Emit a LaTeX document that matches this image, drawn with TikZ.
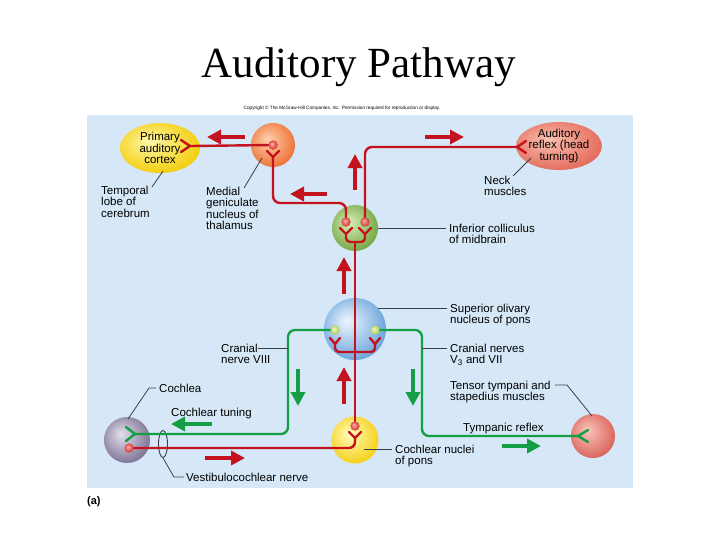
\documentclass[tikz,border=0pt]{standalone}
\usepackage{fontspec}
\setmainfont{Liberation Serif}
\setsansfont{Liberation Sans}
\usetikzlibrary{arrows.meta,shapes.geometric}
\definecolor{panel}{RGB}{214,232,247}
\definecolor{nred}{RGB}{196,18,30}
\definecolor{ngreen}{RGB}{22,158,68}
\definecolor{leadc}{RGB}{60,62,72}
\definecolor{cortA}{RGB}{255,248,170}\definecolor{cortB}{RGB}{242,202,0}
\definecolor{mgA}{RGB}{255,208,172}\definecolor{mgB}{RGB}{236,108,48}
\definecolor{icA}{RGB}{218,238,184}\definecolor{icB}{RGB}{108,162,58}
\definecolor{soA}{RGB}{238,246,255}\definecolor{soB}{RGB}{98,158,216}
\definecolor{cnA}{RGB}{255,252,192}\definecolor{cnB}{RGB}{245,205,10}
\definecolor{coA}{RGB}{228,224,238}\definecolor{coB}{RGB}{118,108,142}
\definecolor{tnA}{RGB}{250,198,188}\definecolor{tnB}{RGB}{216,92,82}
\definecolor{rfA}{RGB}{250,192,178}\definecolor{rfB}{RGB}{226,102,86}
\definecolor{rbA}{RGB}{252,175,165}\definecolor{rbB}{RGB}{206,32,32}
\definecolor{gbA}{RGB}{242,250,205}\definecolor{gbB}{RGB}{162,196,58}
\colorlet{sphA}{white}
\colorlet{sphB}{black}
\pgfdeclareradialshading[sphA,sphB]{sphere}{\pgfpoint{-7bp}{7bp}}{color(0bp)=(sphA); color(31bp)=(sphB); color(50bp)=(sphB)}
\begin{document}
\begin{tikzpicture}[x=1pt,y=-1pt,
  lbl/.style={font=\sffamily\fontsize{11.5}{11.6}\selectfont, align=left, inner sep=0pt, anchor=base west},
  lead/.style={draw=leadc, line width=0.8pt},
  rline/.style={draw=nred, line width=2.4pt, line join=round, line cap=round},
  gline/.style={draw=ngreen, line width=2.4pt, line join=round, line cap=round},
  rarr/.style={draw=nred, line width=4.5pt, -{Triangle[length=14pt,width=14pt]}},
  garr/.style={draw=ngreen, line width=4.5pt, -{Triangle[length=14pt,width=14pt]}},
  sph/.style n args={3}{circle, minimum size=#1, inner sep=0pt, shading=sphere,
     /utils/exec={\colorlet{sphA}{#2}\colorlet{sphB}{#3}}},
  ell/.style n args={4}{ellipse, minimum width=#1, minimum height=#2, inner sep=0pt, shading=sphere,
     align=center, font=\sffamily\fontsize{11.5}{11.6}\selectfont,
     /utils/exec={\colorlet{sphA}{#3}\colorlet{sphB}{#4}}},
]
\useasboundingbox (0,0) rectangle (719,542);
\fill[white] (0,0) rectangle (719,542);
\fill[panel] (87,115) rectangle (633,488);

% title and credit
\node[font=\fontsize{43}{43}\selectfont, anchor=base] (title) at (359,77) {Auditory Pathway};
\node[font=\sffamily\fontsize{4.7}{5}\selectfont] (copy) at (342,108) {Copyright \textcopyright{} The McGraw-Hill Companies, Inc. Permission required for reproduction or display.};
\node[font=\sffamily\bfseries\fontsize{11}{11}\selectfont, anchor=base west, inner sep=0pt] (lA) at (87,504) {(a)};

% large structures
\node[ell={80}{50}{cortA}{cortB}] (cortex) at (160,148) {Primary\\auditory\\cortex};
\node[ell={84}{48}{rfA}{rfB}] (reflex) at (559,146) {Auditory\\reflex (head\\turning)};
\node[sph={44}{mgA}{mgB}] (mg) at (273,145) {};
\node[sph={46}{icA}{icB}] (ic) at (355,228) {};
\node[sph={62}{soA}{soB}] (so) at (355,329) {};
\node[sph={47}{cnA}{cnB}] (cn) at (355,440) {};
\node[sph={46}{coA}{coB}] (coch) at (127,440) {};
\node[sph={44}{tnA}{tnB}] (tens) at (593,436) {};

% small cell bodies
\node[sph={9}{rbA}{rbB}] (mgb) at (273,145) {};
\node[sph={9}{rbA}{rbB}] (icl) at (346,222) {};
\node[sph={9}{rbA}{rbB}] (icr) at (365,222) {};
\node[sph={9}{gbA}{gbB}] (sol) at (335,330) {};
\node[sph={9}{gbA}{gbB}] (sor) at (375,330) {};
\node[sph={9}{rbA}{rbB}] (cnb) at (355,426) {};
\node[sph={9}{rbA}{rbB}] (cochb) at (129,448) {};

% vestibulocochlear ring
\node[draw=leadc, line width=0.9pt, ellipse, minimum width=9, minimum height=27, inner sep=0pt] (vring) at (163,444) {};

% fork ends
\coordinate (cfork) at (190,146);
\coordinate (rfork) at (517,147);
\coordinate (cofork) at (135,434);
\coordinate (tfork) at (578,436);
\coordinate (icj) at (355,242);
\coordinate (soj) at (355,352);

% red pathway
\draw[rline] (181,140) -- (cfork) -- (181,152);
\draw[rline] (cfork) -- (mgb);
\draw[rline] (267,151) -- (273,157) -- (279,151);
\draw[rline, rounded corners=7pt] (273,157) |- (346,203) -- (icl);
\draw[rline, rounded corners=7pt] (icr) |- (rfork);
\draw[rline] (526,141) -- (rfork) -- (526,153);
\draw[rline] (340,228) -- (346,234) -- (352,228);
\draw[rline] (359,228) -- (365,234) -- (371,228);
\draw[rline, rounded corners=4pt] (346,234) |- (icj) -| (365,234);
\draw[rline] (icj) -- (cnb);
\draw[rline] (330,338) -- (335,344) -- (340,338);
\draw[rline] (370,338) -- (375,344) -- (380,338);
\draw[rline, rounded corners=4pt] (335,344) |- (soj) -| (375,344);
\draw[rline] (349,432) -- (355,438) -- (361,432);
\draw[rline, rounded corners=6pt] (355,438) |- (cochb);

% green pathway
\draw[gline, rounded corners=7pt] (sol) -| (288,434) -- (cofork);
\draw[gline] (126,427) -- (cofork) -- (126,441);
\draw[gline, rounded corners=7pt] (sor) -| (422,436) -- (tfork);
\draw[gline] (588,430) -- (tfork) -- (588,442);

% redraw small cell bodies on top
\node[sph={9}{rbA}{rbB}] at (mgb) {};
\node[sph={9}{rbA}{rbB}] at (icl) {};
\node[sph={9}{rbA}{rbB}] at (icr) {};
\node[sph={9}{gbA}{gbB}] at (sol) {};
\node[sph={9}{gbA}{gbB}] at (sor) {};
\node[sph={9}{rbA}{rbB}] at (cnb) {};
\node[sph={9}{rbA}{rbB}] at (cochb) {};

% direction arrows
\coordinate (ra1s) at (245,137); \coordinate (ra1e) at (207,137);
\coordinate (ra2s) at (327,194); \coordinate (ra2e) at (290,194);
\coordinate (ra3s) at (355,190); \coordinate (ra3e) at (355,154);
\coordinate (ra4s) at (425,137); \coordinate (ra4e) at (464,137);
\coordinate (ra5s) at (344,294); \coordinate (ra5e) at (344,257);
\coordinate (ra6s) at (344,404); \coordinate (ra6e) at (344,367);
\coordinate (ra7s) at (205,458); \coordinate (ra7e) at (245,458);
\coordinate (ga1s) at (298,369); \coordinate (ga1e) at (298,406);
\coordinate (ga2s) at (413,369); \coordinate (ga2e) at (413,406);
\coordinate (ga3s) at (212,424); \coordinate (ga3e) at (171,424);
\coordinate (ga4s) at (502,446); \coordinate (ga4e) at (541,446);
\draw[rarr] (ra1s) -- (ra1e);
\draw[rarr] (ra2s) -- (ra2e);
\draw[rarr] (ra3s) -- (ra3e);
\draw[rarr] (ra4s) -- (ra4e);
\draw[rarr] (ra5s) -- (ra5e);
\draw[rarr] (ra6s) -- (ra6e);
\draw[rarr] (ra7s) -- (ra7e);
\draw[garr] (ga1s) -- (ga1e);
\draw[garr] (ga2s) -- (ga2e);
\draw[garr] (ga3s) -- (ga3e);
\draw[garr] (ga4s) -- (ga4e);

% labels (anchor = baseline of the last line)
\node[lbl] (lTemp) at (101,217.2) {Temporal\\lobe of\\cerebrum};
\node[lbl] (lMG) at (206,229.8) {Medial\\geniculate\\nucleus of\\thalamus};
\node[lbl] (lNeck) at (484,195.6) {Neck\\muscles};
\node[lbl] (lIC) at (449,243.6) {Inferior colliculus\\of midbrain};
\node[lbl] (lSO) at (450,323.6) {Superior olivary\\nucleus of pons};
\node[lbl] (lCN8) at (221,363.6) {Cranial\\nerve VIII};
\node[lbl] (lCN57) at (450,363.6) {Cranial nerves\\V\textsubscript{3} and VII};
\node[lbl] (lCoch) at (159,392) {Cochlea};
\node[lbl] (lTune) at (171,416) {Cochlear tuning};
\node[lbl] (lTens) at (450,400.6) {Tensor tympani and\\stapedius muscles};
\node[lbl] (lTymp) at (463,431) {Tympanic reflex};
\node[lbl] (lCNp) at (395,464.6) {Cochlear nuclei\\of pons};
\node[lbl] (lVest) at (186,481) {Vestibulocochlear nerve};

% leader lines
\coordinate (t1) at (152,187); \coordinate (t2) at (163,171);
\coordinate (m1) at (244,188); \coordinate (m2) at (262,158);
\coordinate (n1) at (513,176); \coordinate (n2) at (531,158);
\coordinate (i1) at (378,228); \coordinate (i2) at (446,228);
\coordinate (s1) at (378,308); \coordinate (s2) at (447,308);
\coordinate (c1) at (258,348); \coordinate (c2) at (288,348);
\coordinate (d1) at (422,348); \coordinate (d2) at (447,348);
\coordinate (k1) at (156,388); \coordinate (k2) at (149,388); \coordinate (k3) at (128,419);
\coordinate (e1) at (555,385); \coordinate (e2) at (567,385); \coordinate (e3) at (592,416);
\coordinate (p1) at (364,449); \coordinate (p2) at (392,449);
\coordinate (v2) at (174,477); \coordinate (v3) at (184,477);
\draw[lead] (t1) -- (t2);
\draw[lead] (m1) -- (m2);
\draw[lead] (n1) -- (n2);
\draw[lead] (i1) -- (i2);
\draw[lead] (s1) -- (s2);
\draw[lead] (c1) -- (c2);
\draw[lead] (d1) -- (d2);
\draw[lead] (k1) -- (k2) -- (k3);
\draw[lead] (e1) -- (e2) -- (e3);
\draw[lead] (p1) -- (p2);
\draw[lead] (vring.south) -- (v2) -- (v3);
\end{tikzpicture}
\end{document}
